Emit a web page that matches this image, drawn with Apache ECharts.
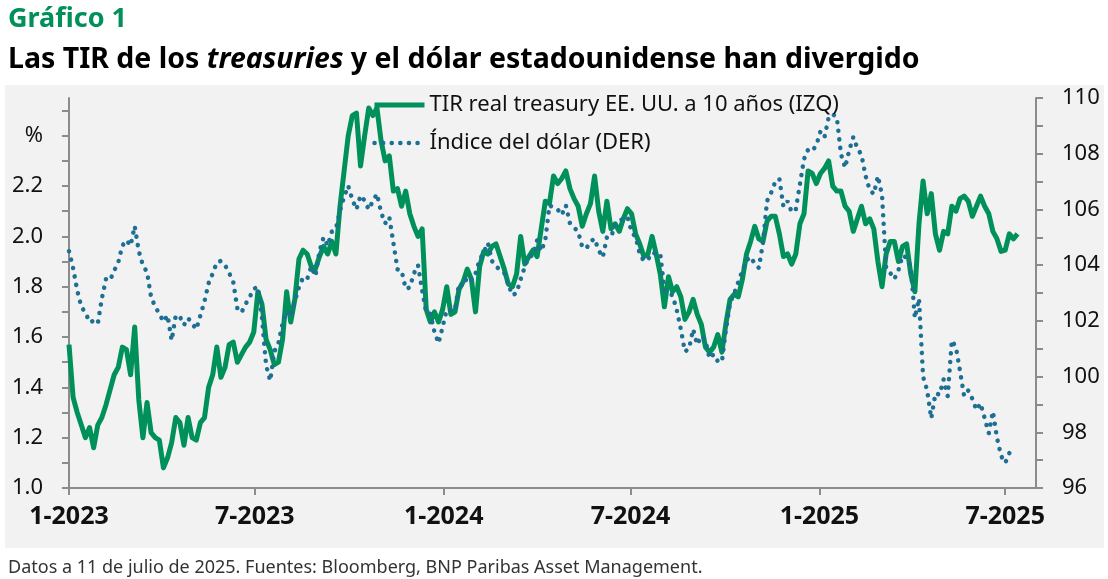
<!DOCTYPE html>
<html>
<head>
<meta charset="utf-8">
<script src="https://cdn.jsdelivr.net/npm/echarts@6/dist/echarts.min.js"></script>
<style>
  html, body { margin: 0; padding: 0; background: #fff; }
  #chart { width: 1108px; height: 579px; }
</style>
</head>
<body>
<div id="chart"></div>
<script>
// one reading every 4 days from 1 Jan 2023
const startDate = '2023-01-01';
const stepDays = 4;

// TIR real treasury EE. UU. a 10 años (%), left axis
const yieldValues = [
  1.57, 1.36, 1.30, 1.25, 1.20, 1.24, 1.16, 1.25, 1.28, 1.33,
  1.39, 1.45, 1.48, 1.56, 1.55, 1.45, 1.64, 1.35, 1.20, 1.34,
  1.22, 1.20, 1.19, 1.08, 1.12, 1.18, 1.28, 1.26, 1.17, 1.28,
  1.20, 1.19, 1.26, 1.28, 1.40, 1.45, 1.56, 1.44, 1.48, 1.57,
  1.58, 1.50, 1.53, 1.56, 1.58, 1.62, 1.78, 1.73, 1.59, 1.55,
  1.49, 1.50, 1.59, 1.78, 1.66, 1.75, 1.91, 1.945, 1.93, 1.88,
  1.87, 1.92, 1.96, 1.93, 1.98, 1.93, 2.12, 2.26, 2.40, 2.48,
  2.49, 2.28, 2.40, 2.51, 2.48, 2.51, 2.38, 2.30, 2.32, 2.18,
  2.19, 2.12, 2.18, 2.09, 2.04, 2.00, 2.03, 1.71, 1.66, 1.70,
  1.66, 1.71, 1.80, 1.69, 1.70, 1.79, 1.82, 1.87, 1.83, 1.70,
  1.88, 1.94, 1.93, 1.96, 1.97, 1.92, 1.87, 1.81, 1.80, 1.85,
  2.00, 1.89, 1.92, 1.945, 1.92, 2.03, 2.14, 2.13, 2.24, 2.21,
  2.23, 2.26, 2.19, 2.15, 2.12, 2.04, 2.09, 2.13, 2.24, 2.10,
  2.02, 2.14, 2.03, 2.05, 2.02, 2.07, 2.11, 2.09, 2.01, 1.97,
  1.92, 1.93, 2.00, 1.93, 1.85, 1.72, 1.84, 1.78, 1.80, 1.76,
  1.67, 1.70, 1.75, 1.69, 1.65, 1.56, 1.54, 1.56, 1.61, 1.54,
  1.655, 1.75, 1.77, 1.76, 1.83, 1.93, 1.98, 2.04, 1.99, 1.98,
  2.06, 2.08, 2.08, 2.01, 1.92, 1.93, 1.89, 1.93, 2.05, 2.09,
  2.26, 2.25, 2.21, 2.25, 2.27, 2.30, 2.20, 2.18, 2.18, 2.12,
  2.10, 2.02, 2.07, 2.12, 2.05, 2.07, 2.03, 1.90, 1.80, 1.93,
  1.98, 1.98, 1.90, 1.96, 1.97, 1.85, 1.78, 2.05, 2.22, 2.09,
  2.17, 2.01, 1.945, 2.02, 2.01, 2.12, 2.10, 2.15, 2.16, 2.14,
  2.08, 2.12, 2.16, 2.12, 2.09, 2.02, 1.99, 1.94, 1.945, 2.01,
  1.99, 2.01
];

// Índice del dólar, right axis
const dollarValues = [
  104.5, 103.9, 103.1, 102.5, 102.3, 101.95, 102.0, 101.9, 102.8, 103.5,
  103.45, 103.8, 104.1, 104.7, 104.9, 104.7, 105.4, 104.5, 104.0, 103.75,
  102.85, 102.5, 102.26, 101.97, 102.2, 101.3, 102.2, 102.15, 101.85, 102.1,
  101.9, 101.7, 102.2, 102.7, 103.35, 103.7, 104.1, 104.15, 104.0, 103.72,
  103.4, 102.45, 102.3, 102.6, 102.85, 103.15, 103.22, 102.1, 100.4, 99.85,
  100.9, 101.2, 101.9, 102.35, 102.15, 102.7, 103.2, 103.55, 103.5, 103.95,
  103.6, 104.5, 105.0, 104.7, 105.2, 105.3, 105.95, 106.45, 106.85, 106.35,
  106.0, 106.5, 106.32, 106.0, 106.3, 106.56, 105.9, 105.5, 105.73, 104.8,
  103.85, 103.8, 103.15, 103.2, 103.7, 104.0, 103.1, 102.3, 102.25, 101.6,
  101.2, 101.79, 102.4, 102.38, 102.38, 103.34, 103.25, 103.58, 103.46, 103.7,
  104.2, 104.45, 104.8, 104.15, 103.95, 103.84, 103.72, 103.3, 102.92, 103.0,
  103.5, 103.94, 104.3, 104.35, 104.89, 104.5, 104.9, 106.14, 106.08, 106.0,
  105.8, 106.15, 105.5, 105.35, 105.2, 104.65, 104.6, 104.85, 104.95, 104.53,
  104.28, 105.0, 105.01, 105.43, 105.61, 105.65, 105.73, 105.2, 105.0, 104.4,
  104.15, 104.2, 104.45, 104.41, 104.41, 103.1, 103.05, 102.9, 102.4, 101.7,
  100.9, 101.0, 101.7, 101.15, 101.45, 101.3, 100.65, 100.8, 100.55, 100.53,
  101.7, 102.65, 102.98, 103.4, 103.8, 104.17, 104.3, 104.05, 103.9, 104.8,
  106.3, 106.6, 107.0, 107.1, 106.1, 106.3, 105.9, 106.0, 106.9, 107.8,
  108.15, 108.1, 108.3, 108.8, 108.6, 109.3, 109.42, 109.3, 107.99, 107.5,
  108.11, 108.6, 108.2, 107.95, 107.2, 106.7, 106.55, 107.2, 106.5, 103.9,
  103.72, 103.5, 103.82, 104.35, 104.26, 103.94, 102.1, 102.8, 100.0, 99.5,
  98.5, 99.4, 99.35, 99.9, 99.3, 101.3, 101.05, 100.2, 99.3, 99.5,
  99.2, 98.8, 99.04, 98.5, 97.97, 98.75, 97.8, 97.15, 96.9, 97.25,
  97.5
];

const xTickDates = ['2023-01-01', '2023-07-01', '2024-01-01', '2024-07-01', '2025-01-01', '2025-07-01'];
const leftTicks = [1.0, 1.1, 1.2, 1.3, 1.4, 1.5, 1.6, 1.7, 1.8, 1.9, 2.0, 2.1, 2.2, 2.3, 2.4, 2.5];
const leftLabels = [1.0, 1.2, 1.4, 1.6, 1.8, 2.0, 2.2, 2.4];
const rightTicks = [96, 97, 98, 99, 100, 101, 102, 103, 104, 105, 106, 107, 108, 109, 110];
const rightLabels = [96, 98, 100, 102, 104, 106, 108, 110];

const DAY = 24 * 3600 * 1000;
const toTime = s => Date.parse(s + 'T00:00:00Z');
const t0 = toTime(startDate);
const yieldData = yieldValues.map((v, i) => [t0 + i * stepDays * DAY, v]);
const dollarData = dollarValues.map((v, i) => [t0 + i * stepDays * DAY, v]);

const font = "'Noto Sans', sans-serif";
const green = '#00905a';
const blue = '#1d6f93';
const axisGray = '#8c8c8c';
const yieldName = 'TIR real treasury EE. UU. a 10 años (IZQ)';
const dollarName = 'Índice del dólar (DER)';

const chart = echarts.init(document.getElementById('chart'));

chart.setOption({
  animation: false,
  textStyle: { fontFamily: font },
  graphic: [{
    type: 'rect',
    silent: true,
    z: -10,
    shape: { x: 5, y: 85, width: 1099, height: 463 },
    style: { fill: '#f2f2f2' }
  }],
  title: [
    {
      text: 'Gráfico 1',
      left: 3, top: 1,
      textStyle: { fontFamily: font, fontSize: 27, fontWeight: 'bold', color: green }
    },
    {
      text: '{b|Las TIR de los }{i|treasuries}{b| y el dólar estadounidense han divergido}',
      left: 3, top: 40,
      textStyle: {
        rich: {
          b: { fontFamily: font, fontSize: 28.5, fontWeight: 'bold', color: '#000' },
          i: { fontFamily: font, fontSize: 28.5, fontWeight: 'bold', fontStyle: 'italic', color: '#000' }
        }
      }
    },
    {
      text: 'Datos a 11 de julio de 2025. Fuentes: Bloomberg, BNP Paribas Asset Management.',
      left: 3, top: 554,
      textStyle: { fontFamily: font, fontSize: 18, fontWeight: 'normal', color: '#333' }
    }
  ],
  legend: {
    orient: 'vertical',
    left: 372, top: 94,
    padding: 0,
    itemWidth: 50,
    itemHeight: 14,
    itemGap: 16,
    itemStyle: { opacity: 0 },
    textStyle: { fontFamily: font, fontSize: 22, color: '#111' },
    data: [
      { name: yieldName, lineStyle: { width: 5 } },
      { name: dollarName, lineStyle: { width: 4.5 } }
    ]
  },
  grid: { left: 69, right: 72, top: 98, bottom: 91 },
  xAxis: {
    type: 'value',
    min: toTime('2023-01-01'),
    max: toTime('2025-07-31'),
    splitLine: { show: false },
    axisLine: { lineStyle: { color: axisGray, width: 2 } },
    axisTick: {
      customValues: xTickDates.map(toTime),
      length: 7,
      lineStyle: { color: axisGray, width: 2 }
    },
    axisLabel: {
      customValues: xTickDates.map(toTime),
      margin: 16,
      fontFamily: font, fontSize: 25, fontWeight: 'bold', color: '#111',
      formatter: v => {
        const d = new Date(v);
        return (d.getUTCMonth() + 1) + '-' + d.getUTCFullYear();
      }
    }
  },
  yAxis: [
    {
      type: 'value',
      min: 1.0, max: 2.55,
      position: 'left',
      splitLine: { show: false },
      axisLine: { show: true, lineStyle: { color: axisGray, width: 2 } },
      axisTick: { show: true, customValues: leftTicks, length: 7, lineStyle: { color: axisGray, width: 2 } },
      axisLabel: {
        customValues: leftLabels,
        margin: 26,
        fontFamily: font, fontSize: 22, color: '#111',
        formatter: v => (Math.abs(v - 2.4) < 1e-6 ? '%' : v.toFixed(1))
      }
    },
    {
      type: 'value',
      min: 96, max: 110,
      position: 'right',
      splitLine: { show: false },
      axisLine: { show: true, lineStyle: { color: axisGray, width: 2 } },
      axisTick: { show: true, customValues: rightTicks, length: 7, lineStyle: { color: axisGray, width: 2 } },
      axisLabel: {
        customValues: rightLabels,
        margin: 26,
        fontFamily: font, fontSize: 22, color: '#111'
      }
    }
  ],
  series: [
    {
      name: yieldName,
      type: 'line',
      yAxisIndex: 0,
      data: yieldData,
      showSymbol: false,
      symbol: 'none',
      color: green,
      lineStyle: { color: green, width: 5, join: 'round' }
    },
    {
      name: dollarName,
      type: 'line',
      yAxisIndex: 1,
      data: dollarData,
      showSymbol: false,
      symbol: 'none',
      color: blue,
      lineStyle: { color: blue, width: 4.5, type: [0.1, 8.5], cap: 'round' }
    }
  ]
});
</script>
</body>
</html>
